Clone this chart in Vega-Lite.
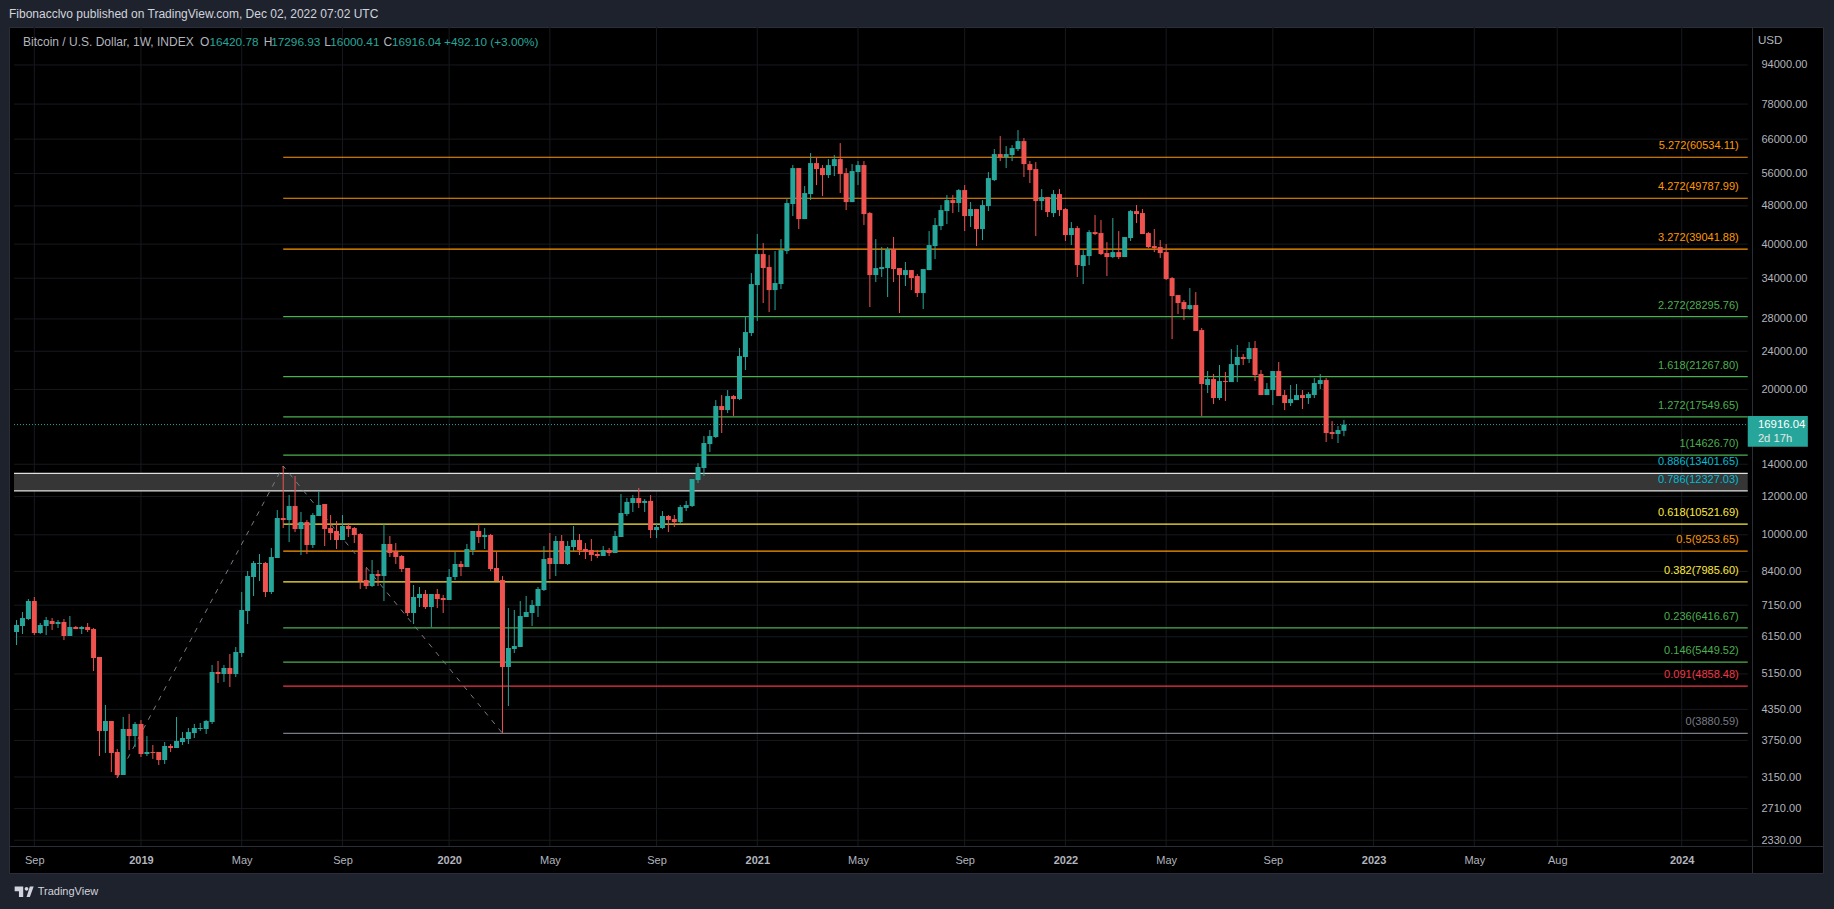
{"$schema":"https://vega.github.io/schema/vega-lite/v6.json","width":1814,"height":846,"autosize":{"type":"none"},"padding":{"left":9,"top":27,"right":11,"bottom":36},"background":"#1e222d","view":{"fill":"#000000","stroke":"#2a2e39"},"title":{"text":"Fibonacclvo published on TradingView.com, Dec 02, 2022 07:02 UTC","anchor":"start","frame":"group","offset":6,"fontSize":12,"fontWeight":"normal","color":"#d1d4dc","font":"Liberation Sans"},"config":{"text":{"font":"Liberation Sans"}},"datasets":{"candles":[
{"t":"2018-08-13","o":6290,"h":6660,"l":5912,"c":6504},{"t":"2018-08-20","o":6473,"h":6919,"l":6231,"c":6724},{"t":"2018-08-27","o":6692,"h":7362,"l":6660,"c":7292},{"t":"2018-09-03","o":7292,"h":7433,"l":6201,"c":6260},{"t":"2018-09-10","o":6260,"h":6566,"l":6231,"c":6504},{"t":"2018-09-17","o":6473,"h":6757,"l":6201,"c":6660},{"t":"2018-09-24","o":6629,"h":6724,"l":6350,"c":6535},{"t":"2018-10-01","o":6535,"h":6660,"l":6411,"c":6597},{"t":"2018-10-08","o":6597,"h":6692,"l":6055,"c":6172},{"t":"2018-10-15","o":6172,"h":6789,"l":6172,"c":6442},{"t":"2018-10-22","o":6442,"h":6473,"l":6380,"c":6380},{"t":"2018-10-29","o":6380,"h":6473,"l":6231,"c":6442},{"t":"2018-11-05","o":6442,"h":6566,"l":6290,"c":6350},{"t":"2018-11-12","o":6380,"h":6411,"l":5223,"c":5557},{"t":"2018-11-19","o":5584,"h":5584,"l":3482,"c":3923},{"t":"2018-11-26","o":3923,"h":4441,"l":3533,"c":4115},{"t":"2018-12-03","o":4115,"h":4115,"l":3226,"c":3533},{"t":"2018-12-10","o":3549,"h":3600,"l":3135,"c":3181},{"t":"2018-12-17","o":3181,"h":4194,"l":3181,"c":3961},{"t":"2018-12-24","o":3961,"h":4255,"l":3583,"c":3831},{"t":"2018-12-31","o":3831,"h":4095,"l":3635,"c":4057},{"t":"2019-01-07","o":4057,"h":4134,"l":3466,"c":3516},{"t":"2019-01-14","o":3516,"h":3831,"l":3482,"c":3549},{"t":"2019-01-21","o":3549,"h":3670,"l":3433,"c":3533},{"t":"2019-01-28","o":3549,"h":3549,"l":3336,"c":3416},{"t":"2019-02-04","o":3416,"h":3722,"l":3352,"c":3652},{"t":"2019-02-11","o":3652,"h":3687,"l":3549,"c":3618},{"t":"2019-02-18","o":3618,"h":4194,"l":3618,"c":3741},{"t":"2019-02-25","o":3722,"h":3904,"l":3670,"c":3794},{"t":"2019-03-04","o":3776,"h":3980,"l":3687,"c":3904},{"t":"2019-03-11","o":3885,"h":4057,"l":3794,"c":3980},{"t":"2019-03-18","o":3961,"h":4076,"l":3923,"c":3980},{"t":"2019-03-25","o":3961,"h":4134,"l":3868,"c":4115},{"t":"2019-04-01","o":4095,"h":5375,"l":4057,"c":5198},{"t":"2019-04-08","o":5198,"h":5478,"l":4932,"c":5149},{"t":"2019-04-15","o":5149,"h":5375,"l":4956,"c":5298},{"t":"2019-04-22","o":5298,"h":5664,"l":4839,"c":5149},{"t":"2019-04-29","o":5149,"h":5856,"l":5076,"c":5718},{"t":"2019-05-06","o":5691,"h":7612,"l":5584,"c":6986},{"t":"2019-05-13","o":6953,"h":8414,"l":6535,"c":8216},{"t":"2019-05-20","o":8177,"h":8825,"l":7468,"c":8741},{"t":"2019-05-27","o":8700,"h":9125,"l":8022,"c":8741},{"t":"2019-06-03","o":8741,"h":8782,"l":7433,"c":7612},{"t":"2019-06-10","o":7612,"h":9389,"l":7540,"c":8995},{"t":"2019-06-17","o":8952,"h":11254,"l":8952,"c":10833},{"t":"2019-06-24","o":10833,"h":13882,"l":10328,"c":10730},{"t":"2019-07-01","o":10730,"h":12089,"l":9661,"c":11471},{"t":"2019-07-08","o":11471,"h":13235,"l":10133,"c":10279},{"t":"2019-07-15","o":10279,"h":11147,"l":9081,"c":10628},{"t":"2019-07-22","o":10628,"h":10730,"l":9125,"c":9525},{"t":"2019-07-29","o":9525,"h":11095,"l":9389,"c":10990},{"t":"2019-08-05","o":10937,"h":12322,"l":10937,"c":11526},{"t":"2019-08-12","o":11581,"h":11581,"l":9479,"c":10279},{"t":"2019-08-19","o":10328,"h":10990,"l":9754,"c":10086},{"t":"2019-08-26","o":10182,"h":10679,"l":9344,"c":9754},{"t":"2019-09-02","o":9754,"h":10990,"l":9754,"c":10428},{"t":"2019-09-09","o":10428,"h":10578,"l":9895,"c":10279},{"t":"2019-09-16","o":10328,"h":10378,"l":9616,"c":9990},{"t":"2019-09-23","o":10038,"h":10086,"l":7722,"c":8022},{"t":"2019-09-30","o":8060,"h":8535,"l":7722,"c":7833},{"t":"2019-10-07","o":7833,"h":8867,"l":7797,"c":8295},{"t":"2019-10-14","o":8295,"h":8454,"l":7833,"c":8216},{"t":"2019-10-21","o":8216,"h":10528,"l":7292,"c":9570},{"t":"2019-10-28","o":9570,"h":9942,"l":8995,"c":9168},{"t":"2019-11-04","o":9256,"h":9616,"l":8700,"c":8995},{"t":"2019-11-11","o":9038,"h":9081,"l":8374,"c":8494},{"t":"2019-11-18","o":8535,"h":8535,"l":6789,"c":6887},{"t":"2019-11-25","o":6887,"h":7871,"l":6535,"c":7433},{"t":"2019-12-02","o":7397,"h":7797,"l":7087,"c":7540},{"t":"2019-12-09","o":7540,"h":7685,"l":7020,"c":7087},{"t":"2019-12-16","o":7087,"h":7540,"l":6442,"c":7540},{"t":"2019-12-23","o":7540,"h":7722,"l":7053,"c":7362},{"t":"2019-12-30","o":7397,"h":7504,"l":6887,"c":7327},{"t":"2020-01-06","o":7327,"h":8494,"l":7327,"c":8177},{"t":"2020-01-13","o":8177,"h":9212,"l":8060,"c":8700},{"t":"2020-01-20","o":8700,"h":8825,"l":8216,"c":8576},{"t":"2020-01-27","o":8576,"h":9570,"l":8576,"c":9344},{"t":"2020-02-03","o":9300,"h":10182,"l":9081,"c":10182},{"t":"2020-02-10","o":10182,"h":10528,"l":9616,"c":9895},{"t":"2020-02-17","o":9895,"h":10328,"l":9344,"c":9990},{"t":"2020-02-24","o":9990,"h":10038,"l":8414,"c":8494},{"t":"2020-03-02","o":8535,"h":9212,"l":8022,"c":8022},{"t":"2020-03-09","o":8060,"h":8216,"l":3880.59,"c":5324},{"t":"2020-03-16","o":5324,"h":7053,"l":4420,"c":5828},{"t":"2020-03-23","o":5800,"h":6986,"l":5691,"c":5884},{"t":"2020-03-30","o":5856,"h":7292,"l":5856,"c":6789},{"t":"2020-04-06","o":6757,"h":7468,"l":6757,"c":6919},{"t":"2020-04-13","o":6887,"h":7327,"l":6473,"c":7155},{"t":"2020-04-20","o":7121,"h":7797,"l":6757,"c":7722},{"t":"2020-04-27","o":7685,"h":9479,"l":7648,"c":8909},{"t":"2020-05-04","o":8952,"h":10086,"l":8099,"c":8700},{"t":"2020-05-11","o":8700,"h":9942,"l":8216,"c":9708},{"t":"2020-05-18","o":9708,"h":9990,"l":8700,"c":8700},{"t":"2020-05-25","o":8700,"h":9708,"l":8658,"c":9479},{"t":"2020-06-01","o":9434,"h":10428,"l":9256,"c":9754},{"t":"2020-06-08","o":9754,"h":10038,"l":9081,"c":9300},{"t":"2020-06-15","o":9344,"h":9616,"l":8909,"c":9212},{"t":"2020-06-22","o":9300,"h":9800,"l":8825,"c":9081},{"t":"2020-06-29","o":9125,"h":9300,"l":8952,"c":9038},{"t":"2020-07-06","o":9038,"h":9479,"l":9038,"c":9300},{"t":"2020-07-13","o":9300,"h":9389,"l":9038,"c":9168},{"t":"2020-07-20","o":9168,"h":10182,"l":9168,"c":9942},{"t":"2020-07-27","o":9895,"h":12147,"l":9895,"c":11095},{"t":"2020-08-03","o":11042,"h":11917,"l":10937,"c":11697},{"t":"2020-08-10","o":11637,"h":12089,"l":11147,"c":11917},{"t":"2020-08-17","o":11917,"h":12499,"l":11362,"c":11637},{"t":"2020-08-24","o":11637,"h":11860,"l":11147,"c":11753},{"t":"2020-08-31","o":11753,"h":12089,"l":9847,"c":10230},{"t":"2020-09-07","o":10230,"h":10578,"l":9847,"c":10378},{"t":"2020-09-14","o":10328,"h":11200,"l":10279,"c":10937},{"t":"2020-09-21","o":10937,"h":10990,"l":10133,"c":10730},{"t":"2020-09-28","o":10781,"h":10990,"l":10378,"c":10628},{"t":"2020-10-05","o":10628,"h":11526,"l":10528,"c":11416},{"t":"2020-10-12","o":11362,"h":11753,"l":11200,"c":11526},{"t":"2020-10-19","o":11471,"h":13047,"l":11416,"c":13047},{"t":"2020-10-26","o":12985,"h":14078,"l":12801,"c":13817},{"t":"2020-11-02","o":13749,"h":16017,"l":13235,"c":15491},{"t":"2020-11-09","o":15416,"h":16481,"l":14838,"c":16017},{"t":"2020-11-16","o":15941,"h":19015,"l":15863,"c":18480},{"t":"2020-11-23","o":18480,"h":19475,"l":16247,"c":18130},{"t":"2020-11-30","o":18130,"h":19944,"l":17873,"c":19382},{"t":"2020-12-07","o":19382,"h":19475,"l":17620,"c":19106},{"t":"2020-12-14","o":19106,"h":24367,"l":19015,"c":23455},{"t":"2020-12-21","o":23348,"h":28382,"l":21940,"c":26299},{"t":"2020-12-28","o":26175,"h":34843,"l":25802,"c":33065},{"t":"2021-01-04","o":32907,"h":41967,"l":27716,"c":38150},{"t":"2021-01-11","o":38150,"h":40204,"l":30200,"c":35683},{"t":"2021-01-18","o":35857,"h":37968,"l":28930,"c":32130},{"t":"2021-01-25","o":32130,"h":38698,"l":29207,"c":33222},{"t":"2021-02-01","o":33065,"h":40976,"l":32284,"c":38882},{"t":"2021-02-08","o":38698,"h":49587,"l":38150,"c":48652},{"t":"2021-02-15","o":48422,"h":58320,"l":45727,"c":57488},{"t":"2021-02-22","o":57488,"h":57488,"l":42977,"c":45076},{"t":"2021-03-01","o":45076,"h":52760,"l":45076,"c":51028},{"t":"2021-03-08","o":50786,"h":61750,"l":49350,"c":58876},{"t":"2021-03-15","o":58876,"h":60585,"l":53013,"c":57213},{"t":"2021-03-22","o":57488,"h":58320,"l":50302,"c":55602},{"t":"2021-03-29","o":55602,"h":60007,"l":54810,"c":58320},{"t":"2021-04-05","o":58039,"h":61166,"l":55336,"c":60007},{"t":"2021-04-12","o":60007,"h":64767,"l":51028,"c":55868},{"t":"2021-04-19","o":56135,"h":57488,"l":47052,"c":48882},{"t":"2021-04-26","o":48882,"h":58597,"l":48882,"c":56672},{"t":"2021-05-03","o":56400,"h":59440,"l":53013,"c":58320},{"t":"2021-05-10","o":58320,"h":59440,"l":43807,"c":46167},{"t":"2021-05-17","o":46387,"h":46606,"l":29631,"c":34514},{"t":"2021-05-24","o":34514,"h":40976,"l":33379,"c":35683},{"t":"2021-05-31","o":35514,"h":39445,"l":34188,"c":35857},{"t":"2021-06-07","o":35683,"h":39445,"l":31078,"c":39068},{"t":"2021-06-14","o":39068,"h":41372,"l":33379,"c":35514},{"t":"2021-06-21","o":35683,"h":35683,"l":28794,"c":34514},{"t":"2021-06-28","o":34514,"h":36719,"l":32750,"c":35345},{"t":"2021-07-05","o":35345,"h":35345,"l":32130,"c":34022},{"t":"2021-07-12","o":34349,"h":34680,"l":31078,"c":31675},{"t":"2021-07-19","o":31675,"h":35514,"l":29347,"c":35514},{"t":"2021-07-26","o":35345,"h":42571,"l":35345,"c":39823},{"t":"2021-08-02","o":39632,"h":45292,"l":37249,"c":43807},{"t":"2021-08-09","o":43598,"h":48192,"l":42772,"c":47052},{"t":"2021-08-16","o":46831,"h":50545,"l":44017,"c":49350},{"t":"2021-08-23","o":49350,"h":50545,"l":46387,"c":48652},{"t":"2021-08-30","o":48652,"h":52008,"l":46606,"c":51761},{"t":"2021-09-06","o":51761,"h":53013,"l":42571,"c":45727},{"t":"2021-09-13","o":45727,"h":48882,"l":43393,"c":47278},{"t":"2021-09-20","o":47278,"h":47278,"l":39632,"c":42977},{"t":"2021-09-27","o":42977,"h":49350,"l":40781,"c":48192},{"t":"2021-10-04","o":47960,"h":56400,"l":46831,"c":54810},{"t":"2021-10-11","o":54288,"h":62938,"l":54033,"c":61459},{"t":"2021-10-18","o":61459,"h":66964,"l":59440,"c":60585},{"t":"2021-10-25","o":60585,"h":63846,"l":57488,"c":61459},{"t":"2021-11-01","o":61166,"h":64153,"l":59440,"c":63239},{"t":"2021-11-08","o":62938,"h":68906,"l":62343,"c":65388},{"t":"2021-11-15","o":65388,"h":66328,"l":55076,"c":58597},{"t":"2021-11-22","o":58597,"h":59440,"l":53520,"c":56940},{"t":"2021-11-29","o":57213,"h":59155,"l":41568,"c":49118},{"t":"2021-12-06","o":49118,"h":52008,"l":47052,"c":50065},{"t":"2021-12-13","o":50065,"h":50065,"l":45512,"c":46606},{"t":"2021-12-20","o":46387,"h":51761,"l":45512,"c":50786},{"t":"2021-12-27","o":50786,"h":52008,"l":45727,"c":47052},{"t":"2022-01-03","o":47278,"h":47504,"l":40589,"c":41767},{"t":"2022-01-10","o":41767,"h":44436,"l":39823,"c":43183},{"t":"2022-01-17","o":43183,"h":43598,"l":34188,"c":36200},{"t":"2022-01-24","o":36026,"h":38882,"l":33065,"c":37968},{"t":"2022-01-31","o":37786,"h":42772,"l":36200,"c":42367},{"t":"2022-02-07","o":42367,"h":45947,"l":41767,"c":41967},{"t":"2022-02-14","o":42167,"h":44861,"l":37968,"c":38150},{"t":"2022-02-21","o":38331,"h":40394,"l":34349,"c":37608},{"t":"2022-02-28","o":37608,"h":45292,"l":37427,"c":38513},{"t":"2022-03-07","o":38513,"h":42571,"l":37249,"c":37608},{"t":"2022-03-14","o":37608,"h":41372,"l":37608,"c":41372},{"t":"2022-03-21","o":41172,"h":47052,"l":40589,"c":46831},{"t":"2022-03-28","o":46831,"h":48192,"l":44226,"c":46167},{"t":"2022-04-04","o":46387,"h":47278,"l":41967,"c":41967},{"t":"2022-04-11","o":42167,"h":42367,"l":39255,"c":39445},{"t":"2022-04-18","o":39632,"h":42977,"l":38513,"c":39255},{"t":"2022-04-25","o":39445,"h":40781,"l":37427,"c":38331},{"t":"2022-05-02","o":38513,"h":40013,"l":33699,"c":33861},{"t":"2022-05-09","o":34022,"h":34188,"l":25435,"c":31224},{"t":"2022-05-16","o":31375,"h":31375,"l":28658,"c":30200},{"t":"2022-05-23","o":30343,"h":30634,"l":27847,"c":29347},{"t":"2022-05-30","o":29347,"h":32438,"l":29207,"c":29914},{"t":"2022-06-06","o":29914,"h":31825,"l":26425,"c":26425},{"t":"2022-06-13","o":26550,"h":26805,"l":17620,"c":20525},{"t":"2022-06-20","o":20427,"h":21837,"l":19662,"c":21018},{"t":"2022-06-27","o":21018,"h":21527,"l":18657,"c":19198},{"t":"2022-07-04","o":19198,"h":22471,"l":19015,"c":20820},{"t":"2022-07-11","o":20820,"h":21732,"l":18926,"c":20720},{"t":"2022-07-18","o":20720,"h":24251,"l":20720,"c":22578},{"t":"2022-07-25","o":22471,"h":24719,"l":20720,"c":23348},{"t":"2022-08-01","o":23348,"h":23681,"l":22471,"c":23121},{"t":"2022-08-08","o":23121,"h":25074,"l":22686,"c":24367},{"t":"2022-08-15","o":24367,"h":25195,"l":20820,"c":21424},{"t":"2022-08-22","o":21527,"h":21940,"l":19475,"c":19475},{"t":"2022-08-29","o":19475,"h":20622,"l":19475,"c":20040},{"t":"2022-09-05","o":19944,"h":21837,"l":18568,"c":21837},{"t":"2022-09-12","o":21837,"h":22793,"l":19382,"c":19382},{"t":"2022-09-19","o":19475,"h":19944,"l":18130,"c":18746},{"t":"2022-09-26","o":18746,"h":20427,"l":18480,"c":19106},{"t":"2022-10-03","o":19015,"h":20525,"l":19015,"c":19475},{"t":"2022-10-10","o":19475,"h":19944,"l":18217,"c":19198},{"t":"2022-10-17","o":19198,"h":19755,"l":18657,"c":19569},{"t":"2022-10-24","o":19475,"h":21119,"l":19198,"c":20622},{"t":"2022-10-31","o":20525,"h":21527,"l":20040,"c":20918},{"t":"2022-11-07","o":20918,"h":21119,"l":15564,"c":16247},{"t":"2022-11-14","o":16325,"h":17202,"l":15788,"c":16171},{"t":"2022-11-21","o":16171,"h":16799,"l":15491,"c":16481},{"t":"2022-11-28","o":16420.78,"h":17296.93,"l":16000.41,"c":16916.04}
],"levels":[{"level":"5.272","p":60534.11,"label":"5.272(60534.11)"},{"level":"4.272","p":49787.99,"label":"4.272(49787.99)"},{"level":"3.272","p":39041.88,"label":"3.272(39041.88)"},{"level":"2.272","p":28295.76,"label":"2.272(28295.76)"},{"level":"1.618","p":21267.8,"label":"1.618(21267.80)"},{"level":"1.272","p":17549.65,"label":"1.272(17549.65)"},{"level":"1","p":14626.7,"label":"1(14626.70)"},{"level":"0.886","p":13401.65,"label":"0.886(13401.65)"},{"level":"0.786","p":12327.03,"label":"0.786(12327.03)"},{"level":"0.618","p":10521.69,"label":"0.618(10521.69)"},{"level":"0.5","p":9253.65,"label":"0.5(9253.65)"},{"level":"0.382","p":7985.6,"label":"0.382(7985.60)"},{"level":"0.236","p":6416.67,"label":"0.236(6416.67)"},{"level":"0.146","p":5449.52,"label":"0.146(5449.52)"},{"level":"0.091","p":4858.48,"label":"0.091(4858.48)"},{"level":"0","p":3880.59,"label":"0(3880.59)"}],"priceTicks":[{"p":94000},{"p":78000},{"p":66000},{"p":56000},{"p":48000},{"p":40000},{"p":34000},{"p":28000},{"p":24000},{"p":20000},{"p":14000},{"p":12000},{"p":10000},{"p":8400},{"p":7150},{"p":6150},{"p":5150},{"p":4350},{"p":3750},{"p":3150},{"p":2710},{"p":2330}],"timeTicks":[{"t":"2018-09-03"},{"t":"2019-01-07"},{"t":"2019-05-06"},{"t":"2019-09-02"},{"t":"2020-01-06"},{"t":"2020-05-04"},{"t":"2020-09-07"},{"t":"2021-01-04"},{"t":"2021-05-03"},{"t":"2021-09-06"},{"t":"2022-01-03"},{"t":"2022-05-02"},{"t":"2022-09-05"},{"t":"2023-01-02"},{"t":"2023-05-01"},{"t":"2023-08-07"},{"t":"2024-01-01"}],"zigzag":[{"t":"2018-12-10","p":3135},{"t":"2019-06-24","p":13882},{"t":"2020-03-09","p":3880.59}],"labels":[{"t":"2018-08-20T14:00:00Z","p":105050,"kind":"legendText","label":"Bitcoin / U.S. Dollar, 1W, INDEX"},{"t":"2019-03-17T17:00:00Z","p":105050,"kind":"legendText","label":"O"},{"t":"2019-03-28T19:00:00Z","p":105050,"kind":"legendValue","label":"16420.78"},{"t":"2019-06-01T00:00:00Z","p":105050,"kind":"legendText","label":"H"},{"t":"2019-06-09T19:00:00Z","p":105050,"kind":"legendValue","label":"17296.93"},{"t":"2019-08-11T12:00:00Z","p":105050,"kind":"legendText","label":"L"},{"t":"2019-08-18T14:00:00Z","p":105050,"kind":"legendValue","label":"16000.41"},{"t":"2019-10-20T14:00:00Z","p":105050,"kind":"legendText","label":"C"},{"t":"2019-10-30T10:00:00Z","p":105050,"kind":"legendValue","label":"16916.04"},{"t":"2019-12-31T00:00:00Z","p":105050,"kind":"legendValue","label":"+492.10 (+3.00%)"},{"t":"2024-03-31T00:00:00Z","p":105400,"kind":"currency","label":"USD"},{"t":"2024-03-31T00:00:00Z","p":16916.04,"kind":"tagValue","label":"16916.04"},{"t":"2024-03-31T00:00:00Z","p":15816,"kind":"tagTime","label":"2d 17h"},{"t":"2018-09-07T00:00:00Z","p":1823,"kind":"footer","label":"TradingView"}]},"layer":[
{"data":{"name":"timeTicks"},"mark":{"type":"rule","color":"#16191e","strokeWidth":1},"encoding":{"x":{"field":"t","type":"temporal","title":null,"scale":{"type":"utc","domain":["2018-08-10T00:00:00Z","2024-06-10T00:00:00Z"]},"axis":{"orient":"bottom","offset":-27,"title":null,"values":[{"year":2018,"month":9,"date":3,"utc":true},{"year":2019,"month":1,"date":7,"utc":true},{"year":2019,"month":5,"date":6,"utc":true},{"year":2019,"month":9,"date":2,"utc":true},{"year":2020,"month":1,"date":6,"utc":true},{"year":2020,"month":5,"date":4,"utc":true},{"year":2020,"month":9,"date":7,"utc":true},{"year":2021,"month":1,"date":4,"utc":true},{"year":2021,"month":5,"date":3,"utc":true},{"year":2021,"month":9,"date":6,"utc":true},{"year":2022,"month":1,"date":3,"utc":true},{"year":2022,"month":5,"date":2,"utc":true},{"year":2022,"month":9,"date":5,"utc":true},{"year":2023,"month":1,"date":2,"utc":true},{"year":2023,"month":5,"date":1,"utc":true},{"year":2023,"month":8,"date":7,"utc":true},{"year":2024,"month":1,"date":1,"utc":true}],"labelExpr":"utcmonth(datum.value)==0 ? utcFormat(datum.value,'%Y') : utcFormat(datum.value,'%b')","labelFontWeight":{"condition":{"test":"utcmonth(datum.value)==0","value":"bold"},"value":"normal"},"labelColor":"#b2b5be","labelFont":"Liberation Sans","labelFontSize":11,"labelPadding":8,"labelOverlap":false,"labelFlush":false,"labelBound":false,"ticks":false,"grid":false,"domainColor":"#2a2e39"}},"y":{"datum":2267,"type":"quantitative","title":null,"scale":{"type":"log","domain":[1993.1,112660],"nice":false,"zero":false},"axis":{"orient":"right","offset":-71,"title":null,"values":[94000,78000,66000,56000,48000,40000,34000,28000,24000,20000,14000,12000,10000,8400,7150,6150,5150,4350,3750,3150,2710,2330],"format":".2f","labelAlign":"left","labelColor":"#b2b5be","labelFont":"Liberation Sans","labelFontSize":11,"labelPadding":9,"labelOverlap":false,"labelFlush":false,"labelBound":false,"ticks":false,"grid":false,"domainColor":"#2a2e39"}},"y2":{"datum":112660}}},
{"data":{"name":"priceTicks"},"mark":{"type":"rule","color":"#16191e","strokeWidth":1},"encoding":{"y":{"field":"p","type":"quantitative","title":null},"x":{"datum":{"year":2018,"month":8,"date":10,"utc":true},"type":"temporal","title":null},"x2":{"datum":{"year":2024,"month":3,"date":19,"utc":true}}}},
{"data":{"values":[{"lo":12327.03,"hi":13401.65}]},"mark":{"type":"rect","color":"#363636"},"encoding":{"y":{"field":"lo","type":"quantitative","title":null},"y2":{"field":"hi"},"x":{"datum":{"year":2018,"month":8,"date":10,"utc":true},"type":"temporal","title":null},"x2":{"datum":{"year":2024,"month":3,"date":19,"utc":true}}}},
{"data":{"name":"levels"},"transform":[{"filter":"datum.level=='0.886'||datum.level=='0.786'"}],"mark":{"type":"rule","color":"#e0e0e0","strokeWidth":1.2},"encoding":{"y":{"field":"p","type":"quantitative","title":null},"x":{"datum":{"year":2018,"month":8,"date":10,"utc":true},"type":"temporal","title":null},"x2":{"datum":{"year":2024,"month":3,"date":19,"utc":true}}}},
{"data":{"name":"levels"},"transform":[{"filter":"datum.level!='0.886'&&datum.level!='0.786'"}],"mark":{"type":"rule","strokeWidth":1.2},"encoding":{"y":{"field":"p","type":"quantitative","title":null},"x":{"datum":{"year":2019,"month":6,"date":24,"utc":true},"type":"temporal","title":null},"x2":{"datum":{"year":2024,"month":3,"date":19,"utc":true}},"color":{"field":"level","type":"nominal","legend":null,"scale":{"domain":["5.272","4.272","3.272","2.272","1.618","1.272","1","0.618","0.5","0.382","0.236","0.146","0.091","0"],"range":["#ff9800","#ff9800","#ff9800","#4caf50","#4caf50","#4caf50","#4caf50","#ffeb3b","#ff9800","#ffeb3b","#4caf50","#4caf50","#f23645","#787b86"]}}}},
{"data":{"name":"zigzag"},"mark":{"type":"line","color":"#787b86","strokeWidth":1,"strokeDash":[5,6]},"encoding":{"x":{"field":"t","type":"temporal","title":null},"y":{"field":"p","type":"quantitative","title":null}}},
{"data":{"values":[{"p":16916.04}]},"mark":{"type":"rule","color":"#26a69a","strokeWidth":1,"strokeDash":[1,2]},"encoding":{"y":{"field":"p","type":"quantitative","title":null},"x":{"datum":{"year":2018,"month":8,"date":10,"utc":true},"type":"temporal","title":null},"x2":{"datum":{"year":2024,"month":3,"date":19,"utc":true}}}},
{"data":{"name":"candles"},"mark":{"type":"rule","strokeWidth":1},"encoding":{"x":{"field":"t","type":"temporal","title":null},"y":{"field":"l","type":"quantitative","title":null},"y2":{"field":"h"},"color":{"condition":{"test":"datum.c>=datum.o","value":"#26a69a"},"value":"#ef5350"}}},
{"data":{"name":"candles"},"mark":{"type":"bar","width":5},"encoding":{"x":{"field":"t","type":"temporal","title":null},"y":{"field":"o","type":"quantitative","title":null},"y2":{"field":"c"},"color":{"condition":{"test":"datum.c>=datum.o","value":"#26a69a"},"value":"#ef5350"}}},
{"data":{"name":"levels"},"mark":{"type":"text","align":"right","baseline":"middle","dx":-9,"dy":-11,"fontSize":11},"encoding":{"y":{"field":"p","type":"quantitative","title":null},"x":{"datum":{"year":2024,"month":3,"date":19,"utc":true},"type":"temporal","title":null},"text":{"field":"label"},"color":{"field":"level","type":"nominal","legend":null,"scale":{"domain":["5.272","4.272","3.272","2.272","1.618","1.272","1","0.886","0.786","0.618","0.5","0.382","0.236","0.146","0.091","0"],"range":["#ff9800","#ff9800","#ff9800","#4caf50","#4caf50","#4caf50","#4caf50","#00bcd4","#00bcd4","#ffeb3b","#ff9800","#ffeb3b","#4caf50","#4caf50","#f23645","#787b86"]}}}},
{"data":{"values":[{"lo":15225,"hi":17626}]},"mark":{"type":"rect","color":"#26a69a"},"encoding":{"y":{"field":"lo","type":"quantitative","title":null},"y2":{"field":"hi"},"x":{"datum":{"year":2024,"month":3,"date":19,"utc":true},"type":"temporal","title":null},"x2":{"datum":{"year":2024,"month":5,"date":29,"utc":true}}}},
{"data":{"name":"labels"},"mark":{"type":"text","align":"left","baseline":"middle"},"encoding":{"x":{"field":"t","type":"temporal","title":null},"y":{"field":"p","type":"quantitative","title":null},"text":{"field":"label"},"size":{"field":"kind","type":"nominal","legend":null,"scale":{"domain":["legendText","legendValue","currency","tagValue","tagTime","footer"],"range":[12,11,11,12,12,13]}},"color":{"field":"kind","type":"nominal","legend":null,"scale":{"domain":["legendText","legendValue","currency","tagValue","tagTime","footer"],"range":["#b2b5be","#26a69a","#b2b5be","#ffffff","#e6e6e6","#d1d4dc"]}}}},
{"data":{"values":[{"t":"2018-08-22T00:00:00Z","p":1823}]},"mark":{"type":"point","shape":"M-1 -0.55H-0.1V0.55H-0.55V-0.05H-1ZM0.25 0.55L0.6 -0.55H1L0.6 0.55ZM0.05 -0.3a0.2 0.2 0 1 0 0.4 0a0.2 0.2 0 1 0 -0.4 0Z","filled":true,"size":361,"color":"#d1d4dc","opacity":1},"encoding":{"x":{"field":"t","type":"temporal","title":null},"y":{"field":"p","type":"quantitative","title":null}}}
],"resolve":{"scale":{"color":"independent","size":"independent"}}}
